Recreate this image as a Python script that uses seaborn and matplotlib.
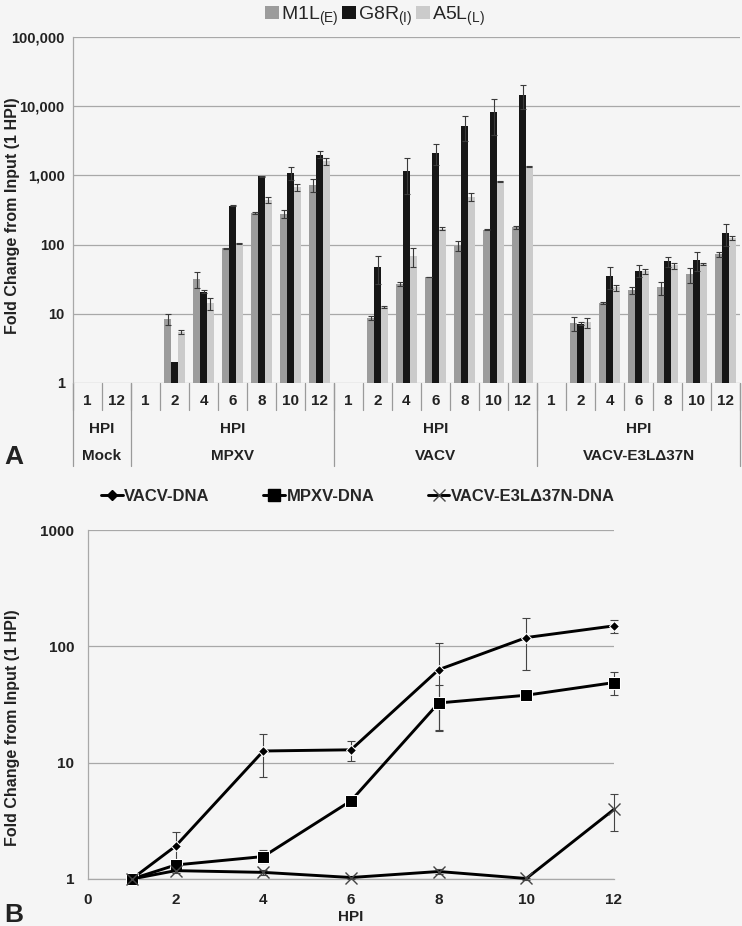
import numpy as np
import pandas as pd
import matplotlib
matplotlib.use("Agg")
import matplotlib.pyplot as plt
import seaborn as sns
from matplotlib.patches import Patch
from matplotlib.lines import Line2D
from matplotlib.ticker import FixedLocator, FuncFormatter, NullLocator

# ---------------- data: panel A ----------------
groups = ["Mock", "MPXV", "VACV", "VACV-E3L\u039437N"]
hpi_mock = ["1", "12"]
hpi_virus = ["1", "2", "4", "6", "8", "10", "12"]
genes = ["M1L", "G8R", "A5L"]
gene_labels = [r"M1L$_{\mathregular{(E)}}$", r"G8R$_{\mathregular{(I)}}$", r"A5L$_{\mathregular{(L)}}$"]

nan = np.nan
m1l = [nan, nan,
       1, 8.4, 31.8, 88.5, 285, 278, 732,
       1, 8.7, 27, 34, 97, 165, 178,
       1, 7.4, 14.5, 22, 24, 37, 72]
m1l_err = [nan, nan,
           0, 1.4, 8, 1, 8, 35, 160,
           0, 0.6, 2, 0.5, 15, 3, 8,
           0, 1.7, 0.5, 2.5, 5, 9, 5]
g8r = [nan, nan,
       1, 2.04, 20.8, 367, 968, 1080, 1995,
       1, 48, 1150, 2100, 5100, 8200, 14500,
       1, 7.2, 35, 42, 57, 59, 148]
g8r_err = [nan, nan,
           0, 0, 1, 10, 20, 230, 235,
           0, 21, 620, 700, 2000, 4400, 5500,
           0, 0.3, 12, 8, 10, 18, 52]
a5l = [nan, nan,
       1, 5.5, 14.1, 104, 444, 670, 1597,
       1, 12.6, 68, 170, 490, 820, 1350,
       1, 7.5, 24, 41, 50, 52, 125]
a5l_err = [nan, nan,
           0, 0.4, 2.6, 2, 42, 70, 200,
           0, 0.3, 20, 8, 65, 15, 30,
           0, 1.2, 2.5, 4, 5, 2, 7]

# ---------------- data: panel B ----------------
hpi_b = [1, 2, 4, 6, 8, 10, 12]
vacv_dna = [1, 1.92, 12.6, 12.9, 63, 119, 150]
vacv_dna_err = [0, 0.6, 5, 2.5, 44, 57, 20]
mpxv_dna = [1, 1.32, 1.56, 4.7, 32.6, 38, 48.8]
mpxv_dna_err = [0, 0.1, 0.2, 0.3, 14, 2, 11]
e3l_dna = [1, 1.18, 1.14, 1.03, 1.16, 1.01, 3.97]
e3l_dna_err = [0, 0.05, 0.05, 0.03, 0.05, 0.02, 1.4]
line_labels = ["VACV-DNA", "MPXV-DNA", "VACV-E3L\u039437N-DNA"]

# ---------------- style ----------------
sns.set_theme(style="white")
plt.rcParams["font.family"] = ["Liberation Sans", "DejaVu Sans"]
plt.rcParams["mathtext.fontset"] = "custom"
plt.rcParams["mathtext.rm"] = "Liberation Sans"
BG = "#f5f5f5"
GRID = "#a8a8a8"
TXT = "#222222"
colors = {"M1L": "#9c9c9c", "G8R": "#161616", "A5L": "#cbcbcb"}

W, H = 742, 926
fig = plt.figure(figsize=(W / 100, H / 100), dpi=100, facecolor=BG)

def fx(px):
    return px / W

def fy(py):
    return 1 - py / H

def noclip(container):
    for art in container.get_children():
        art.set_clip_on(False)

# ---------------- panel A ----------------
cat_hpi = hpi_mock + hpi_virus * 3
cat_group = [groups[0]] * 2 + [groups[1]] * 7 + [groups[2]] * 7 + [groups[3]] * 7
cat_keys = [f"{g}|{h}" for g, h in zip(cat_group, cat_hpi)]

rows = []
for gname, vals in zip(genes, [m1l, g8r, a5l]):
    for k, v in zip(cat_keys, vals):
        rows.append({"cat": k, "gene": gname, "value": v})
dfA = pd.DataFrame(rows)

axA = fig.add_axes([fx(73), fy(383), fx(740 - 73), (383 - 37) / H])
axA.set_facecolor(BG)
sns.barplot(data=dfA, x="cat", y="value", hue="gene", order=cat_keys,
            hue_order=genes, palette=colors, width=0.7, errorbar=None,
            saturation=1, legend=False, ax=axA, linewidth=0)
axA.set_yscale("log")
axA.set_ylim(1, 1e5)
axA.set_xlim(-0.5, len(cat_keys) - 0.5)
axA.yaxis.set_major_locator(FixedLocator([1, 10, 100, 1e3, 1e4, 1e5]))
axA.yaxis.set_minor_locator(NullLocator())
axA.yaxis.set_major_formatter(FuncFormatter(lambda v, p: f"{v:,.0f}"))
axA.tick_params(axis="y", length=0, pad=6, labelsize=10.5, labelcolor=TXT)
for t in axA.get_yticklabels():
    t.set_fontweight("bold")
axA.set_xticks([])
axA.set_xlabel("")
axA.set_ylabel("")
axA.grid(axis="y", color=GRID, lw=0.9)
axA.set_axisbelow(True)
for s in ["top", "right", "bottom"]:
    axA.spines[s].set_visible(False)
axA.spines["left"].set_color(GRID)
axA.spines["left"].set_linewidth(0.9)

err_map = {"M1L": m1l_err, "G8R": g8r_err, "A5L": a5l_err}
for gname, cont in zip(genes, axA.containers):
    xs, ys, es = [], [], []
    for bar in cont:
        h = bar.get_height()
        if not np.isfinite(h):
            continue
        xc = bar.get_x() + bar.get_width() / 2
        idx = int(round(xc))
        e = err_map[gname][idx]
        if np.isfinite(e) and e > 0:
            xs.append(xc); ys.append(h); es.append(e)
    axA.errorbar(xs, ys, yerr=es, fmt="none", ecolor="#3a3a3a",
                 elinewidth=0.8, capsize=2.4, capthick=0.8, zorder=5)

# category table under panel A
tr = axA.get_xaxis_transform()
axh = 383 - 37
def ay(py):
    return (383 - py) / axh
sep_kw = dict(transform=tr, clip_on=False, color="#9a9a9a", lw=0.9)
for i, lab in enumerate(cat_hpi):
    axA.text(i, ay(401), lab, transform=tr, ha="center", va="center",
             fontsize=11, fontweight="bold", color=TXT)
for i in range(len(cat_keys) + 1):
    axA.plot([i - 0.5, i - 0.5], [ay(383), ay(410)], **sep_kw)
bounds = [0, 2, 9, 16, 23]
for b in bounds:
    axA.plot([b - 0.5, b - 0.5], [ay(383), ay(466)], **sep_kw)
for g, b0, b1 in zip(groups, bounds[:-1], bounds[1:]):
    xc = (b0 + b1 - 1) / 2
    axA.text(xc, ay(429), "HPI", transform=tr, ha="center", va="center",
             fontsize=11, fontweight="bold", color=TXT)
    axA.text(xc, ay(456), g, transform=tr, ha="center", va="center",
             fontsize=11, fontweight="bold", color=TXT)

handlesA = [Patch(facecolor=colors[g], edgecolor="none") for g in genes]
fig.legend(handlesA, gene_labels, loc="center", bbox_to_anchor=(fx(375), fy(16)),
           ncol=3, frameon=False, handlelength=0.7, handleheight=0.7,
           handletextpad=0.1, columnspacing=0.2, fontsize=14)

fig.text(fx(13), fy(216), "Fold Change from Input (1 HPI)", rotation=90,
         ha="center", va="center", fontsize=11.5, fontweight="bold", color=TXT)
fig.text(fx(4), fy(457), "A", fontsize=19, fontweight="bold", va="center", color=TXT)

# ---------------- panel B ----------------
axB = fig.add_axes([fx(88), fy(879), fx(614 - 88), (879 - 530) / H])
axB.set_facecolor(BG)
series = [
    (vacv_dna, vacv_dna_err, dict(marker="D", markersize=5.5)),
    (mpxv_dna, mpxv_dna_err, dict(marker="s", markersize=8)),
    (e3l_dna, e3l_dna_err, dict(marker="x", markersize=8, markeredgewidth=1.0,
                                 markeredgecolor="#444444")),
]
handlesB = []
for (vals, errs, mk), lab in zip(series, line_labels):
    sns.lineplot(x=hpi_b, y=vals, ax=axB, color="black", lw=2.1, errorbar=None,
                 clip_on=False, zorder=4, **mk)
    xs = [x for x, e in zip(hpi_b, errs) if e > 0]
    ys = [v for v, e in zip(vals, errs) if e > 0]
    es = [e for e in errs if e > 0]
    eb = axB.errorbar(xs, ys, yerr=es, fmt="none", ecolor="#444444", elinewidth=0.8,
                      capsize=3, capthick=0.8, zorder=3)
    noclip(eb)
    handlesB.append(Line2D([], [], color="black", lw=2.1, **mk))
axB.set_yscale("log")
axB.set_ylim(1, 1000)
axB.set_xlim(0, 12)
axB.xaxis.set_major_locator(FixedLocator([0, 2, 4, 6, 8, 10, 12]))
axB.yaxis.set_major_locator(FixedLocator([1, 10, 100, 1000]))
axB.yaxis.set_minor_locator(NullLocator())
axB.yaxis.set_major_formatter(FuncFormatter(lambda v, p: f"{v:.0f}"))
axB.tick_params(axis="both", length=4, width=0.8, color=GRID, labelsize=11, pad=6,
                labelcolor=TXT)
axB.tick_params(axis="x", direction="out", length=4)
for t in axB.get_yticklabels() + axB.get_xticklabels():
    t.set_fontweight("bold")
axB.grid(axis="y", color=GRID, lw=0.9)
axB.set_axisbelow(True)
for s in ["top", "right"]:
    axB.spines[s].set_visible(False)
for s in ["left", "bottom"]:
    axB.spines[s].set_color(GRID)
    axB.spines[s].set_linewidth(0.9)
axB.set_xlabel("")
axB.set_ylabel("")

fig.legend(handlesB, line_labels, loc="center", bbox_to_anchor=(fx(358), fy(496)),
           ncol=3, frameon=False, handlelength=1.3, handletextpad=0.1,
           columnspacing=3.2, prop=dict(size=12, weight="bold"))
fig.text(fx(351), fy(917), "HPI", ha="center", va="center", fontsize=11,
         fontweight="bold", color=TXT)
fig.text(fx(13), fy(728), "Fold Change from Input (1 HPI)", rotation=90,
         ha="center", va="center", fontsize=11.5, fontweight="bold", color=TXT)
fig.text(fx(4), fy(915), "B", fontsize=19, fontweight="bold", va="center", color=TXT)

fig.savefig("out.png", dpi=100, facecolor=BG)
